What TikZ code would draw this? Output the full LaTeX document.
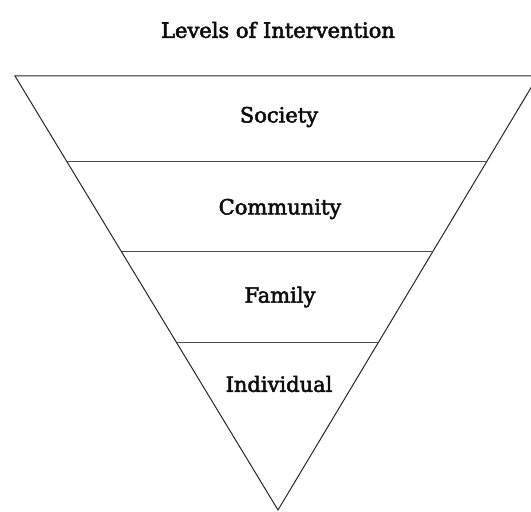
\documentclass[tikz,border=0pt]{standalone}
\usepackage{fontspec}
\setmainfont{DejaVu Serif}[FakeBold=2.5]
\usetikzlibrary{calc}
\tikzset{
  level/.style={font=\fontsize{21}{24}\selectfont, text=black!95},
  edge/.style={line width=1pt, draw=black!85},
  band/.style={line width=1pt, draw=black!70}
}
\begin{document}
\begin{tikzpicture}[x=1pt, y=1pt]
  \useasboundingbox (0,0) rectangle (531,512);
  \clip (0,0) rectangle (531,512);
  % title
  \node[level] (title) at (278,482) {Levels of Intervention};
  % the funnel
  \coordinate (tl) at (15,436);
  \coordinate (tr) at (538,436);
  \coordinate (apex) at (278,2);
  \draw[edge] (tl) -- (tr) -- (apex) -- cycle;
  \draw[band] ($(tl)!0.198!(apex)$) -- ($(tr)!0.198!(apex)$);
  \draw[band] ($(tl)!0.4055!(apex)$) -- ($(tr)!0.4055!(apex)$);
  \draw[band] ($(tl)!0.615!(apex)$) -- ($(tr)!0.615!(apex)$);
  % labels
  \node[level] (society) at (279,395) {Society};
  \node[level] (community) at (280,303) {Community};
  \node[level] (family) at (280,215) {Family};
  \node[level] (individual) at (279,128) {Individual};
\end{tikzpicture}
\end{document}
